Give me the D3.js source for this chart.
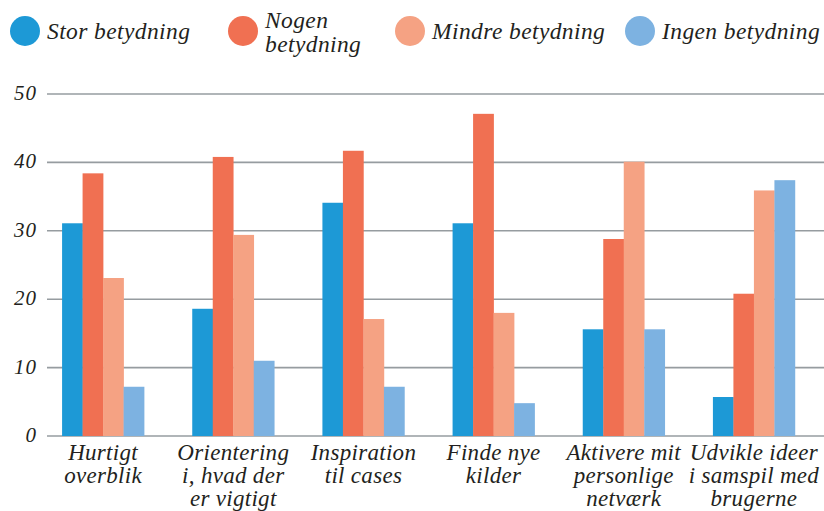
<!DOCTYPE html>
<html>
<head>
<meta charset="utf-8">
<script src="https://cdn.jsdelivr.net/npm/d3@7"></script>
<style>
  html, body { margin: 0; padding: 0; background: #fff; }
  svg { display: block; }
  text { font-family: "Liberation Serif", "DejaVu Serif", serif; font-style: italic; fill: #231f20; }
</style>
</head>
<body>
<svg id="chart" width="824" height="511"></svg>
<script>
// Categories (multi-line labels) and series
const categories = [
  ["Hurtigt", "overblik"],
  ["Orientering", "i, hvad der", "er vigtigt"],
  ["Inspiration", "til cases"],
  ["Finde nye", "kilder"],
  ["Aktivere mit", "personlige", "netværk"],
  ["Udvikle ideer", "i samspil med", "brugerne"]
];
const seriesNames = ["Stor betydning", "Nogen betydning", "Mindre betydning", "Ingen betydning"];
const legendLines = [["Stor betydning"], ["Nogen", "betydning"], ["Mindre betydning"], ["Ingen betydning"]];
const stor    = [31.1, 18.6, 34.1, 31.1, 15.6, 5.7];
const nogen   = [38.4, 40.8, 41.7, 47.1, 28.8, 20.8];
const mindre  = [23.1, 29.4, 17.1, 18.0, 40.1, 35.9];
const ingen   = [7.2, 11.0, 7.2, 4.8, 15.6, 37.4];
const yTicks  = [0, 10, 20, 30, 40, 50];
const colors  = ["#1d99d6", "#f07052", "#f5a283", "#7db2e1"];

const series = [stor, nogen, mindre, ingen];
const svg = d3.select("#chart");

const y = d3.scaleLinear().domain([0, 50]).range([436, 94]);
const x0 = d3.scaleBand().domain(d3.range(categories.length))
  .range([38, 819]).paddingInner(0.37).paddingOuter(0.185);
const x1 = d3.scaleBand().domain(d3.range(series.length)).range([0, x0.bandwidth()]);

// Gridlines
svg.append("g").selectAll("line").data(yTicks).join("line")
  .attr("x1", 47).attr("x2", 824)
  .attr("y1", d => y(d)).attr("y2", d => y(d))
  .attr("stroke", "#969ca0").attr("stroke-width", 1.6);

// Y tick labels
svg.append("g").selectAll("text").data(yTicks).join("text")
  .attr("x", 37).attr("y", d => y(d) + 6)
  .attr("text-anchor", "end")
  .attr("font-size", 21)
  .attr("letter-spacing", 1)
  .text(d => d);

// Bars
const groups = svg.append("g").selectAll("g").data(categories).join("g")
  .attr("transform", (d, i) => `translate(${x0(i)},0)`);
groups.selectAll("rect")
  .data((d, i) => series.map((s, k) => ({ k, v: s[i] })))
  .join("rect")
  .attr("x", d => x1(d.k))
  .attr("width", x1.bandwidth() + 0.3)
  .attr("y", d => y(d.v))
  .attr("height", d => y(0) - y(d.v))
  .attr("fill", d => colors[d.k]);

// Category labels
svg.append("g").selectAll("text").data(categories).join("text")
  .attr("text-anchor", "middle")
  .attr("font-size", 23)
  .attr("letter-spacing", 0.3)
  .attr("transform", (d, i) => `translate(${x0(i) + x0.bandwidth() / 2},0)`)
  .selectAll("tspan").data(d => d).join("tspan")
  .attr("x", 0)
  .attr("y", (d, j) => 460 + j * 23)
  .text(d => d);

// Legend
const legendX = [25, 243, 410, 640];
const legend = svg.append("g").selectAll("g").data(seriesNames).join("g")
  .attr("transform", (d, i) => `translate(${legendX[i]},31)`);
legend.append("circle").attr("r", 15).attr("fill", (d, i) => colors[i]);
legend.append("text")
  .attr("font-size", 23.5)
  .attr("letter-spacing", 0.4)
  .selectAll("tspan").data((d, i) => legendLines[i].map((t, j, a) => ({ t, j, n: a.length })))
  .join("tspan")
  .attr("x", 22)
  .attr("y", d => d.n === 1 ? 8 : -3 + d.j * 24)
  .text(d => d.t);
</script>
</body>
</html>
